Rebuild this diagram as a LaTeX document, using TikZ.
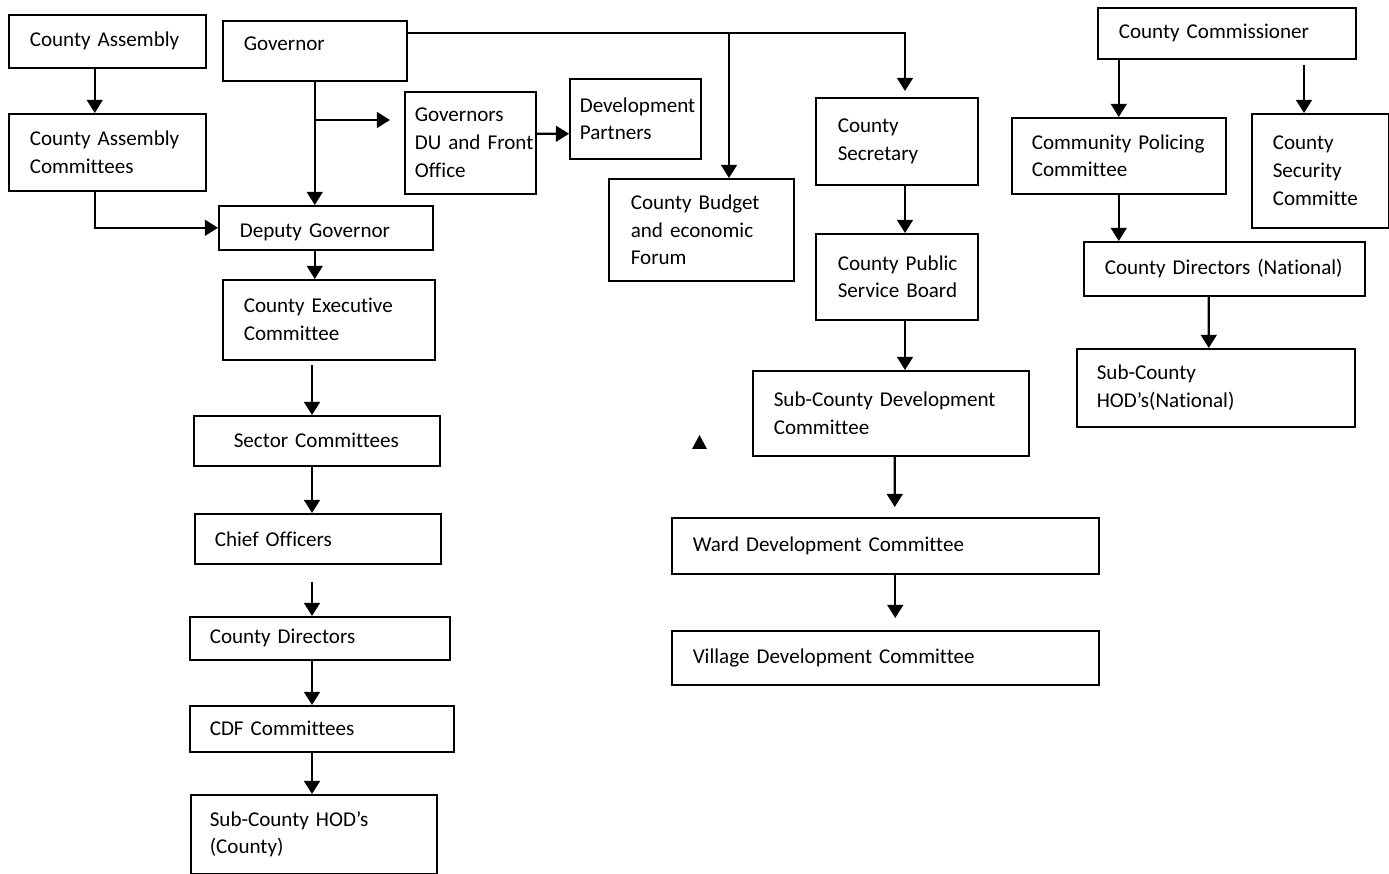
\documentclass[tikz,border=0pt]{standalone}
\usepackage{fontspec}
\setmainfont{Carlito}[Ligatures=NoCommon]
\usetikzlibrary{arrows.meta,positioning,calc}

\tikzset{
  unit/.style={draw, line width=0.9pt, anchor=north west, inner sep=0pt,
    font=\fontsize{12}{15.9}\selectfont, lpad=0.42cm},
  lpad/.style={execute at begin node={\parindent=0pt\leftskip=#1\rightskip=0pt plus 1fil}},
  arr/.style={line width=1.3pt, -{Triangle[length=7.5pt,width=9pt]}},
}

\begin{document}
\begin{tikzpicture}[x=0.02cm,y=-0.02cm]
\useasboundingbox (0,0) rectangle (1389,874);

% county government side
\node[unit, text width=3.94cm, minimum height=1.06cm] (asm) at (8,14) {County Assembly};
\node[unit, text width=3.68cm, minimum height=1.2cm, text depth=0.3cm] (gov) at (222,20) {Governor};
\node[unit, text width=3.94cm, minimum height=1.54cm] (asmc) at (8,113) {County Assembly\\Committees};
\node[unit, lpad=0.2cm, text width=2.62cm, minimum height=2.04cm] (gdu) at (404,91) {Governors\\DU and Front\\Office};
\node[unit, lpad=0.2cm, text width=2.62cm, minimum height=1.6cm] (dp) at (569,78) {Development\\Partners};
\node[unit, lpad=0.44cm, text width=3.70cm, minimum height=2.04cm] (cbf) at (608,178) {County Budget\\and economic\\Forum};
\node[unit, lpad=0.44cm, text width=3.24cm, minimum height=1.74cm] (csec) at (815,97) {County\\Secretary};
\node[unit, lpad=0.44cm, text width=3.24cm, minimum height=1.72cm] (cpsb) at (815,233) {County Public\\Service Board};
\node[unit, text width=4.28cm, minimum height=0.88cm, text height=0.46cm] (dgov) at (218,205) {Deputy Governor};
\node[unit, text width=4.24cm, minimum height=1.6cm] (cec) at (222,279) {County Executive\\Committee};
\node[unit, lpad=0.8cm, text width=4.92cm, minimum height=1.0cm] (sec) at (193,415) {Sector Committees};
\node[unit, lpad=0.4cm, text width=4.92cm, minimum height=1.0cm] (cof) at (194,513) {Chief Officers};
\node[unit, lpad=0.4cm, text width=5.20cm, minimum height=0.86cm] (cdir) at (189,616) {County Directors};
\node[unit, lpad=0.4cm, text width=5.28cm, minimum height=0.92cm] (cdf) at (189,705) {CDF Committees};
\node[unit, lpad=0.38cm, text width=4.92cm, minimum height=1.58cm] (schc) at (190,794) {Sub-County HOD’s\\(County)};

% development committees
\node[unit, text width=5.52cm, minimum height=1.7cm] (scdc) at (752,370) {Sub-County Development\\Committee};
\node[unit, text width=8.54cm, minimum height=1.12cm] (wdc) at (671,517) {Ward Development Committee};
\node[unit, text width=8.54cm, minimum height=1.08cm] (vdc) at (671,630) {Village Development Committee};

% national government side
\node[unit, text width=5.16cm, minimum height=1.02cm] (ccom) at (1097,7) {County Commissioner};
\node[unit, lpad=0.4cm, text width=4.28cm, minimum height=1.52cm] (cpc) at (1011,117) {Community Policing\\Committee};
\node[unit, text width=2.74cm, minimum height=2.28cm] (csc) at (1251,113) {County\\Security\\Committe};
\node[unit, text width=5.62cm, minimum height=1.08cm] (cdn) at (1083,241) {County Directors (National)};
\node[unit, lpad=0.4cm, text width=5.56cm, minimum height=1.56cm] (schn) at (1076,348) {Sub-County\\HOD’s(National)};

\coordinate (taps) at (905,33);
\coordinate (tapb) at (729,33);
\coordinate (gbr) at (315,120);
\coordinate (lcol) at (312,0);
\coordinate (csctap) at (1304,58);

% connectors
\draw[arr] ([xshift=-0.25cm]asm.south) -- ([xshift=-0.25cm]asmc.north);
\draw[arr] ([xshift=-0.25cm]asmc.south) |- (dgov.west);
\draw[arr] (gov.south) -- (gov.south |- dgov.north);
\draw[arr, shorten >=0.28cm] (gbr) -- (gbr -| gdu.west);
\draw[arr] ([yshift=0.18cm]gdu.east) -- ([yshift=-0.3cm]dp.west);
\draw[arr, shorten >=0.12cm] (gov.east |- taps) -| (csec.north -| taps);
\draw[arr] (tapb) -- (tapb |- cbf.north);
\draw[arr] (taps |- csec.south) -- (taps |- cpsb.north);
\draw[arr] (taps |- cpsb.south) -- (taps |- scdc.north);
\draw[arr, shorten >=0.2cm] ([xshift=0.08cm]scdc.south) -- ([xshift=0.19cm]wdc.north);
\draw[arr, shorten >=0.24cm] ([xshift=0.2cm]wdc.south) -- ([xshift=0.2cm]vdc.north);

\draw[arr] (gov.south |- dgov.south) -- (gov.south |- cec.north);
\draw[arr, shorten <=0.08cm] (lcol |- cec.south) -- (lcol |- sec.north);
\draw[arr] (lcol |- sec.south) -- (lcol |- cof.north);
\draw[arr, shorten <=0.34cm] (lcol |- cof.south) -- (lcol |- cdir.north);
\draw[arr] (lcol |- cdir.south) -- (lcol |- cdf.north);
\draw[arr] (lcol |- cdf.south) -- (lcol |- schc.north);

\draw[arr] (cpc.north |- ccom.south) -- (cpc.north);
\draw[arr, shorten <=0.14cm] (csctap) -- (csctap |- csc.north);
\draw[arr] (cpc.south) -- (cpc.south |- cdn.north);
\draw[arr] ([xshift=-0.31cm]cdn.south) -- ([xshift=-0.14cm]schn.north);

% stray mark
\fill (692,449) -- (707,449) -- (699.5,435) -- cycle;
\end{tikzpicture}
\end{document}
